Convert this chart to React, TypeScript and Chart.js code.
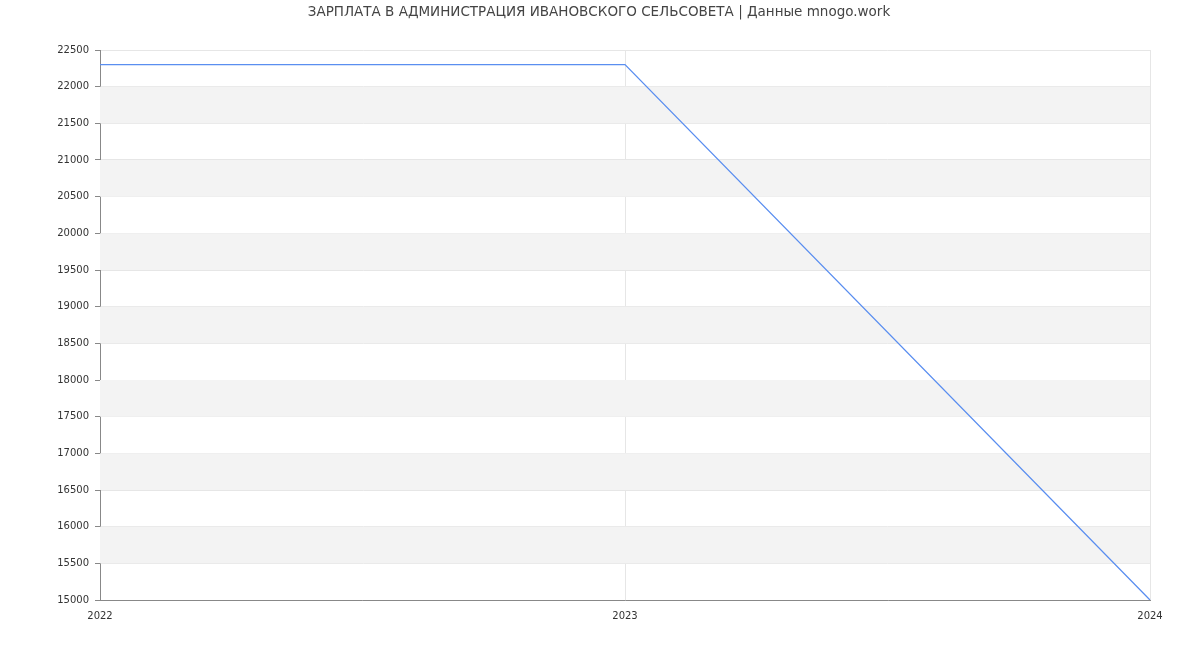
import React, { useEffect, useRef } from "react";
import { Chart, registerables } from "chart.js";

Chart.register(...registerables);

const TITLE = "ЗАРПЛАТА В АДМИНИСТРАЦИЯ ИВАНОВСКОГО СЕЛЬСОВЕТА | Данные mnogo.work";
const years = ["2022", "2023", "2024"];
const salary = [22300, 22300, 15000];
const yMin = 15000;
const yMax = 22500;
const yStep = 500;

const bandsPlugin = {
  id: "bands",
  beforeDatasetsDraw(chart: any) {
    const { ctx, chartArea, scales } = chart;
    const y = scales.y;
    ctx.save();
    ctx.fillStyle = "#f3f3f3";
    for (let v = yMin; v < yMax; v += yStep) {
      const idx = Math.round((v - yMin) / yStep);
      if (idx % 2 === 1) {
        const top = y.getPixelForValue(v + yStep);
        const bot = y.getPixelForValue(v);
        ctx.fillRect(chartArea.left, top, chartArea.right - chartArea.left, bot - top);
      }
    }
    ctx.restore();
  },
};

const titlePlugin = {
  id: "topTitle",
  afterDraw(chart: any) {
    const { ctx } = chart;
    ctx.save();
    ctx.font = "13.5px 'DejaVu Sans'";
    ctx.fillStyle = "#444444";
    ctx.textAlign = "center";
    ctx.textBaseline = "middle";
    ctx.fillText(TITLE, 599, 12.5);
    ctx.restore();
  },
};

export default function App() {
  const ref = useRef<HTMLCanvasElement>(null);
  useEffect(() => {
    document.body.style.margin = "0";
    const chart = new Chart(ref.current!, {
      type: "line",
      data: {
        labels: years,
        datasets: [
          {
            data: salary,
            borderColor: "#5a8ef0",
            borderWidth: 1.3,
            pointRadius: 0,
            fill: false,
            tension: 0,
          },
        ],
      },
      options: {
        animation: false,
        responsive: false,
        layout: { padding: { top: 50, right: 50, left: 0, bottom: 0 } },
        plugins: { legend: { display: false }, tooltip: { enabled: false }, title: { display: false } },
        scales: {
          x: {
            type: "category",
            offset: false,
            grid: { color: "#e6e6e6", drawTicks: false, lineWidth: 1 },
            border: { color: "#888888" },
            ticks: { color: "#333333", font: { family: "DejaVu Sans", size: 10 }, padding: 10, maxRotation: 0 },
            afterFit(s: any) {
              s.height = 50;
            },
          },
          y: {
            min: yMin,
            max: yMax,
            grid: { color: "#e6e6e6", tickColor: "#888888", tickLength: 5 },
            border: { color: "#888888" },
            ticks: {
              stepSize: yStep,
              color: "#333333",
              font: { family: "DejaVu Sans", size: 10 },
              padding: 6,
              callback: (v: any) => String(v),
            },
            afterFit(s: any) {
              s.width = 100;
            },
          },
        },
      },
      plugins: [bandsPlugin, titlePlugin],
    });
    return () => chart.destroy();
  }, []);
  return (
    <div style={{ position: "absolute", left: 0, top: 0, width: 1200, height: 650 }}>
      <canvas ref={ref} width={1200} height={650} style={{ width: 1200, height: 650 }} />
    </div>
  );
}
